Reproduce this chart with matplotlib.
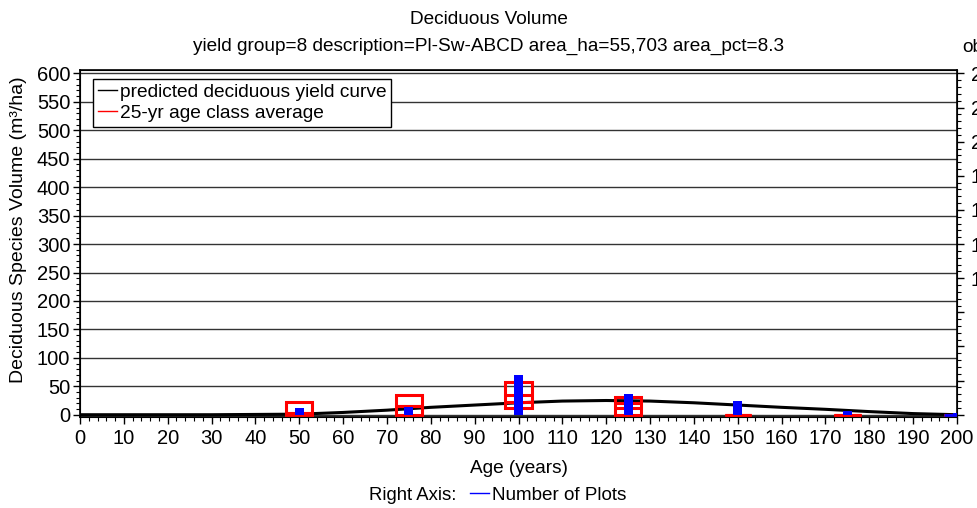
import matplotlib
matplotlib.use("Agg")
import matplotlib.pyplot as plt
from matplotlib.lines import Line2D
from matplotlib.ticker import MultipleLocator

plt.rcParams['font.family'] = ['Liberation Sans', 'DejaVu Sans']

# predicted deciduous yield curve
curve_age = [0, 10, 20, 30, 40, 50, 60, 70, 80, 90, 100, 110, 120, 130, 140, 150, 160, 170, 180, 190, 200]
curve_vol = [0, 0, 0, 0, 0.5, 1, 4, 8, 13, 17, 21, 24, 25, 24, 21, 17, 13, 9.5, 5.5, 2, 0]

# 25-yr age class average (box: low / high / inner lines)
class_age = [50, 75, 100, 125, 150, 175, 200]
class_low = [0, 0, 11, 0, 0, 0, 0]
class_high = [23, 34, 57, 32, 0, 0, 0]
class_mid1 = [3, 16, 34, 20, 0, 0, 0]
class_mid2 = [3, 16, 23, 11, 0, 0, 0]

# number of plots (right axis)
plots = [5, 6, 29, 15, 10, 3, 1]

W, H = 977, 508
fig = plt.figure(figsize=(W / 100, H / 100), dpi=100)
ax = fig.add_axes([80 / W, 1 - 417 / H, 877 / W, 347 / H])

ymin, ymax = -4, 606
ax.set_xlim(0, 200)
ax.set_ylim(ymin, ymax)
ax.yaxis.set_major_locator(MultipleLocator(50))
ax.yaxis.set_minor_locator(MultipleLocator(10))
ax.xaxis.set_major_locator(MultipleLocator(10))
ax.xaxis.set_minor_locator(MultipleLocator(2))
ax.grid(True, axis='y', which='major', color='#333333', lw=1.0)
ax.set_axisbelow(True)
ax.tick_params(axis='both', which='major', direction='out', length=5, width=1, labelsize=14.5, pad=2)
ax.tick_params(axis='x', which='major', pad=4)
ax.tick_params(axis='both', which='minor', direction='out', length=3, width=0.8)
for s in ax.spines.values():
    s.set_linewidth(1.2)

ax.plot(curve_age, curve_vol, color='black', lw=2.2, zorder=3)

box_w = 6
for a, lo, hi, m1, m2 in zip(class_age, class_low, class_high, class_mid1, class_mid2):
    ax.bar(a, hi - lo, bottom=lo, width=box_w, fill=False, edgecolor='#FF0000', lw=2.2, zorder=4)
    ax.hlines([m1, m2], a - box_w / 2, a + box_w / 2, color='#FF0000', lw=2.2, zorder=4)

ax.set_xlabel('Age (years)', fontsize=13.7, labelpad=8)
ax.set_ylabel('Deciduous Species Volume (m³/ha)', fontsize=14)
ax.yaxis.set_label_coords(-53 / 877, 0.54)

leg_handles = [Line2D([], [], color='black', lw=1), Line2D([], [], color='#FF0000', lw=1)]
leg = ax.legend(leg_handles, ['predicted deciduous yield curve', '25-yr age class average'],
                loc='upper left', bbox_to_anchor=(13 / 877, 0.975), fontsize=13.8,
                frameon=True, fancybox=False, edgecolor='black', framealpha=1,
                handlelength=1.0, handletextpad=0.15, borderpad=0.25, labelspacing=0.2,
                borderaxespad=0)
leg.get_frame().set_linewidth(1.0)

ax2 = ax.twinx()
r = 250 / 600
ax2.set_ylim(ymin * r, ymax * r)
ax2.yaxis.set_major_locator(MultipleLocator(25))
ax2.yaxis.set_minor_locator(MultipleLocator(5))
ax2.tick_params(axis='y', which='major', direction='out', length=5, width=1, labelsize=14.5, pad=29)
ax2.tick_params(axis='y', which='minor', direction='out', length=3, width=0.8)
for lab in ax2.get_yticklabels():
    lab.set_horizontalalignment('right')
ax2.bar(class_age, plots, width=2, color='#0000FF', zorder=5)
ax2.hlines(0, 197, 203, color='#0000FF', lw=2)

fig.text(962 / W, 1 - 48 / H, 'ob', fontsize=13.7, ha='left', va='center')

fig.text(0.5, 1 - 19 / H, 'Deciduous Volume', fontsize=13.7, ha='center', va='center')
fig.text(0.5, 1 - 46 / H, 'yield group=8 description=Pl-Sw-ABCD area_ha=55,703 area_pct=8.3',
         fontsize=13.7, ha='center', va='center')

fig.text(456 / W, 1 - 495 / H, 'Right Axis:', fontsize=13.3, ha='right', va='center')
fig.legend([Line2D([], [], color='#0000FF', lw=1)], ['Number of Plots'],
           loc='center left', bbox_to_anchor=(470 / W, 1 - 495 / H), frameon=False,
           fontsize=13.6, handlelength=1.0, handletextpad=0.15, borderpad=0, borderaxespad=0)

fig.savefig('out.png', dpi=100)
